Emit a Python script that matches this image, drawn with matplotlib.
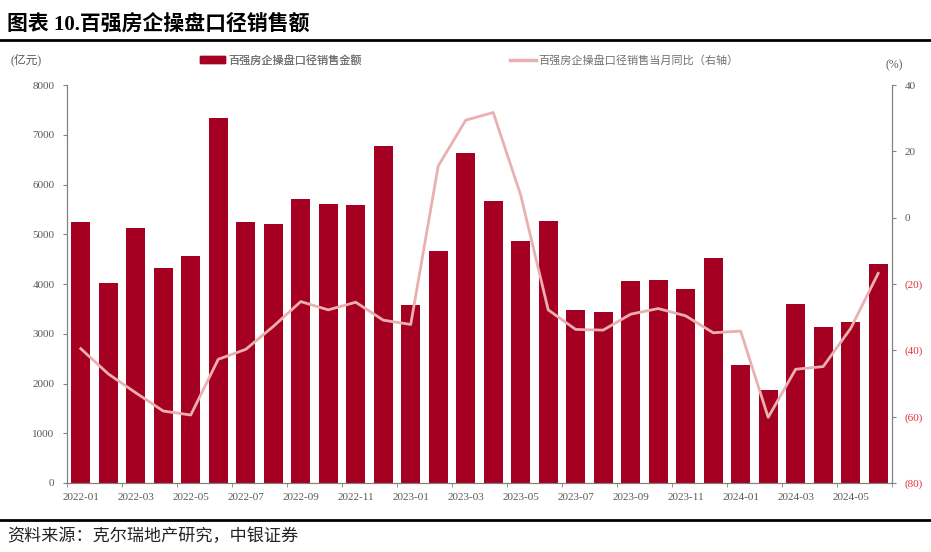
import numpy as np
import matplotlib
matplotlib.use('Agg')
import matplotlib.pyplot as plt
from matplotlib.patches import Patch
from matplotlib.lines import Line2D

plt.rcParams['font.family'] = ['Liberation Serif', 'Noto Sans CJK SC', 'DejaVu Sans']

# months 2022-01 .. 2024-06
months = ['2022-01', '2022-02', '2022-03', '2022-04', '2022-05', '2022-06',
          '2022-07', '2022-08', '2022-09', '2022-10', '2022-11', '2022-12',
          '2023-01', '2023-02', '2023-03', '2023-04', '2023-05', '2023-06',
          '2023-07', '2023-08', '2023-09', '2023-10', '2023-11', '2023-12',
          '2024-01', '2024-02', '2024-03', '2024-04', '2024-05', '2024-06']
# sales amount (100 million yuan)
sales = [5255, 4015, 5120, 4315, 4555, 7340, 5245, 5200, 5710, 5610,
         5595, 6775, 3580, 4655, 6625, 5670, 4860, 5265, 3480, 3445,
         4055, 4080, 3905, 4515, 2365, 1865, 3590, 3130, 3230, 4400]
# year-on-year change (%)
yoy = [-39.5, -47.1, -52.8, -58.3, -59.5, -42.7, -39.7, -32.8, -25.3, -27.8,
       -25.5, -30.9, -32.2, 15.6, 29.4, 31.7, 6.8, -27.8, -33.7, -33.9,
       -29.1, -27.4, -29.6, -34.7, -34.2, -60.2, -45.7, -44.9, -33.4, -16.8]

bar_color = '#A50021'
line_color = '#EAB0B0'
grey = '#595959'
legend_grey = '#707070'
axis_grey = '#808080'

fig = plt.figure(figsize=(9.31, 5.52), dpi=100)
ax = fig.add_axes([0.072, 0.125, 0.886, 0.721])
x = np.arange(len(months))

ax.bar(x, sales, width=0.69, color=bar_color, zorder=2)
ax.set_xlim(-0.5, len(months) - 0.5)
ax.set_ylim(0, 8000)
ax.set_yticks(np.arange(0, 8001, 1000))

ax2 = ax.twinx()
ax2.plot(x, yoy, color=line_color, lw=2.0, zorder=3)
ax2.set_ylim(-80, 40)
ax2.set_yticks(np.arange(-80, 41, 20))
ax2.set_yticklabels([('(%d)' % -v) if v < 0 else str(v) for v in np.arange(-80, 41, 20)])
for lab, v in zip(ax2.get_yticklabels(), np.arange(-80, 41, 20)):
    lab.set_color('#E0303A' if v < 0 else grey)

# x ticks: labels on every second month, tick marks between categories
ax.set_xticks(x[::2])
ax.set_xticklabels(months[::2])
ax.set_xticks(np.arange(-0.5, len(months), 2), minor=True)
ax.tick_params(axis='x', which='major', length=0, pad=7, labelsize=8, labelcolor=grey)
ax.tick_params(axis='x', which='minor', length=3, direction='out', color=axis_grey)
ax.tick_params(axis='y', length=3, color=axis_grey, labelsize=8, labelcolor=grey, pad=6)
ax2.tick_params(axis='y', length=3, color=axis_grey, labelsize=8, pad=6)

for a in (ax, ax2):
    a.spines['top'].set_visible(False)
    for s in ('left', 'right', 'bottom'):
        a.spines[s].set_color(axis_grey)
        a.spines[s].set_linewidth(0.8)

# title and rules
fig.text(0.008, 0.955, '图表 10.百强房企操盘口径销售额', fontsize=15, fontweight='bold',
         va='center', ha='left', color='black')
fig.add_artist(Line2D([0, 1], [0.927, 0.927], color='black', lw=2.0, transform=fig.transFigure))
fig.add_artist(Line2D([0, 1], [0.058, 0.058], color='black', lw=2.0, transform=fig.transFigure))
fig.text(0.008, 0.027, '资料来源：克尔瑞地产研究，中银证券', fontsize=12.3, style='italic',
         va='center', ha='left', color='#222222')

# unit labels
fig.text(0.011, 0.891, '(亿元)', fontsize=8.5, color=grey, va='center', ha='left')
fig.text(0.951, 0.881, '(%)', fontsize=8.5, color=grey, va='center', ha='left')

# legends
leg1 = fig.legend(handles=[Patch(color=bar_color)], labels=['百强房企操盘口径销售金额'],
                  loc='center left', bbox_to_anchor=(0.215, 0.891), frameon=False,
                  fontsize=8, handlelength=2.2, handleheight=0.55, handletextpad=0.3,
                  borderpad=0, borderaxespad=0, labelcolor=legend_grey)
leg2 = fig.legend(handles=[Line2D([], [], color=line_color, lw=2.5)],
                  labels=['百强房企操盘口径销售当月同比（右轴）'],
                  loc='center left', bbox_to_anchor=(0.548, 0.891), frameon=False,
                  fontsize=8, handlelength=2.3, handletextpad=0.2,
                  borderpad=0, borderaxespad=0, labelcolor=legend_grey)
fig.add_artist(leg1)

fig.savefig('out.png', dpi=100)
